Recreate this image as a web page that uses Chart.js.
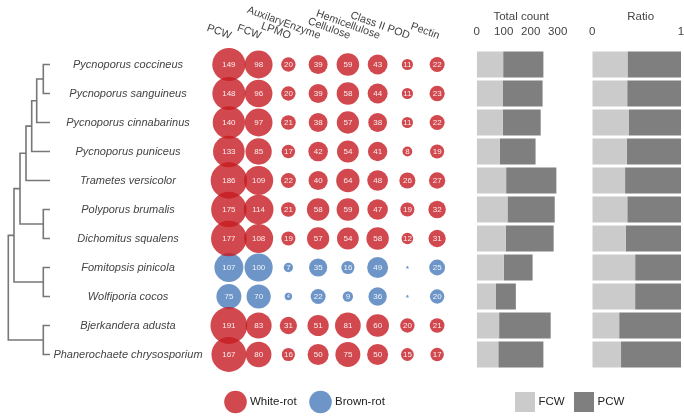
<!DOCTYPE html>
<html>
<head>
<meta charset="utf-8">
<script src="https://cdn.jsdelivr.net/npm/chart.js@4.4.1/dist/chart.umd.min.js"></script>
<style>
  html, body { margin: 0; padding: 0; background: #fff; }
  #wrap { position: relative; width: 684px; height: 416px; }
  #wrap canvas { position: absolute; left: 0; top: 0; }
</style>
</head>
<body>
<div id="wrap">
  <canvas id="tree" width="684" height="416"></canvas>
  <canvas id="bubbles" width="684" height="416"></canvas>
  <canvas id="count" width="684" height="416"></canvas>
  <canvas id="ratio" width="684" height="416"></canvas>
</div>
<script>
const species = [
    'Pycnoporus coccineus', 'Pycnoporus sanguineus', 'Pycnoporus cinnabarinus',
    'Pycnoporus puniceus', 'Trametes versicolor', 'Polyporus brumalis',
    'Dichomitus squalens', 'Fomitopsis pinicola', 'Wolfiporia cocos',
    'Bjerkandera adusta', 'Phanerochaete chrysosporium'
];
const rotType = ['White', 'White', 'White', 'White', 'White', 'White', 'White', 'Brown', 'Brown', 'White', 'White'];
const families = ['PCW', 'FCW', 'LPMO', 'AuxilaryEnzyme', 'Cellulose', 'Hemicellulose', 'Class II POD', 'Pectin'];

const pcw = [149, 148, 140, 133, 186, 175, 177, 107, 75, 191, 167];
const fcw = [98, 96, 97, 85, 109, 114, 108, 100, 70, 83, 80];
const lpmo = [20, 20, 21, 17, 22, 21, 19, 7, 4, 31, 16];
const auxEnzyme = [39, 39, 38, 42, 40, 58, 57, 35, 22, 51, 50];
const cellulose = [59, 58, 57, 54, 64, 59, 54, 16, 9, 81, 75];
const hemicellulose = [43, 44, 38, 41, 48, 47, 58, 49, 36, 60, 50];
const classIIPod = [11, 11, 11, 8, 26, 19, 12, 0, 0, 20, 15];
const pectin = [22, 23, 22, 19, 27, 32, 31, 25, 20, 21, 17];

const countTicks = [0, 100, 200, 300];
const ratioTicks = [0, 1];

// dendrogram: 'L#' = leaf (row index), 'n#' = earlier merge
const treeMerges = [
    ['L0', 'L1'], ['n0', 'L2'], ['n1', 'L3'], ['n2', 'L4'], ['L5', 'L6'],
    ['n3', 'n4'], ['L7', 'L8'], ['n5', 'n6'], ['L9', 'L10'], ['n7', 'n8']
];
const treeHeights = [6.7, 13.3, 18.3, 24, 6.7, 30, 6.7, 36, 6.7, 41.7];

const columns = [pcw, fcw, lpmo, auxEnzyme, cellulose, hemicellulose, classIIPod, pectin];
const whiteColor = 'rgba(198, 28, 34, 0.8)';
const brownColor = 'rgba(72, 122, 186, 0.8)';
const textColor = '#444';
const pad = { top: 50, bottom: 47 };

// dendrogram segments
const nodePos = [];
function pos(ref) {
    const k = parseInt(ref.slice(1));
    if (ref[0] === 'L') return { h: 0, y: k };
    return nodePos[k];
}
const treeSets = treeMerges.map(function (m, k) {
    const a = pos(m[0]), b = pos(m[1]);
    const h = treeHeights[k];
    nodePos[k] = { h: h, y: (a.y + b.y) / 2 };
    return {
        data: [{ x: a.h, y: a.y }, { x: h, y: a.y }, { x: h, y: b.y }, { x: b.h, y: b.y }],
        showLine: true, borderColor: '#777', borderWidth: 1.6, pointRadius: 0, clip: false
    };
});

new Chart(document.getElementById('tree'), {
    type: 'scatter',
    data: { datasets: treeSets },
    options: {
        responsive: false, animation: false, events: [],
        layout: { padding: { left: 0, right: 624, top: pad.top, bottom: pad.bottom } },
        scales: {
            x: { type: 'linear', min: -10, max: 50, reverse: true, display: false },
            y: { type: 'linear', min: -0.5, max: 10.5, reverse: true, display: false }
        },
        plugins: { legend: { display: false }, tooltip: { enabled: false } }
    },
    plugins: [{
        id: 'speciesLabels',
        afterDraw(chart) {
            const ctx = chart.ctx;
            ctx.save();
            ctx.font = 'italic 11px "Liberation Sans", Arial, sans-serif';
            ctx.fillStyle = textColor;
            ctx.textAlign = 'center';
            ctx.textBaseline = 'middle';
            species.forEach(function (s, i) {
                ctx.fillText(s, 128, chart.scales.y.getPixelForValue(i));
            });
            ctx.restore();
        }
    }]
});

// bubbles
function radius(v) { return Math.max(1.5, 2.07 * Math.pow(v, 0.416)); }
function bubblePoints(type) {
    const pts = [];
    species.forEach(function (s, i) {
        if (rotType[i] !== type) return;
        columns.forEach(function (col, j) {
            pts.push({ x: j, y: i, r: radius(col[i]), v: col[i] });
        });
    });
    return pts;
}

new Chart(document.getElementById('bubbles'), {
    type: 'bubble',
    data: {
        datasets: [
            { label: 'White-rot', data: bubblePoints('White'), backgroundColor: whiteColor, borderWidth: 0, clip: false },
            { label: 'Brown-rot', data: bubblePoints('Brown'), backgroundColor: brownColor, borderWidth: 0, clip: false }
        ]
    },
    options: {
        responsive: false, animation: false, events: [],
        layout: { padding: { left: 214, right: 232, top: pad.top, bottom: pad.bottom } },
        scales: {
            x: { type: 'linear', min: -0.5, max: 7.5, display: false },
            y: { type: 'linear', min: -0.5, max: 10.5, reverse: true, display: false }
        },
        plugins: { legend: { display: false }, tooltip: { enabled: false } }
    },
    plugins: [{
        id: 'bubbleText',
        afterDatasetsDraw(chart) {
            const ctx = chart.ctx;
            ctx.save();
            ctx.fillStyle = 'rgba(255,255,255,0.9)';
            ctx.textAlign = 'center';
            ctx.textBaseline = 'middle';
            chart.data.datasets.forEach(function (ds, d) {
                chart.getDatasetMeta(d).data.forEach(function (el, k) {
                    const v = ds.data[k].v;
                    ctx.font = (v < 5 ? '5px' : '8px') + ' "Liberation Sans", Arial, sans-serif';
                    ctx.fillText(String(v), el.x, el.y + 0.5);
                });
            });
            // column headers
            ctx.font = '10.8px "Liberation Sans", Arial, sans-serif';
            ctx.fillStyle = textColor;
            ctx.textAlign = 'right';
            ctx.textBaseline = 'alphabetic';
            families.forEach(function (f, j) {
                ctx.save();
                ctx.translate(chart.scales.x.getPixelForValue(j) + 1, 39);
                ctx.rotate(20 * Math.PI / 180);
                ctx.fillText(f, 0, 0);
                ctx.restore();
            });
            // legend
            ctx.font = '11.5px "Liberation Sans", Arial, sans-serif';
            ctx.textAlign = 'left';
            ctx.textBaseline = 'middle';
            const lx = [235.5, 320.5];
            chart.data.datasets.forEach(function (ds, d) {
                ctx.fillStyle = ds.backgroundColor;
                ctx.beginPath();
                ctx.arc(lx[d], 402, 11.3, 0, Math.PI * 2);
                ctx.fill();
                ctx.fillStyle = '#222';
                ctx.fillText(ds.label, lx[d] + 14.5, 402);
            });
            ctx.restore();
        }
    }]
});

// bar panels
function panelPlugin(title, ticks, withLegend) {
    return {
        id: 'panel' + title.replace(' ', ''),
        afterDraw(chart) {
            const ctx = chart.ctx, a = chart.chartArea, xs = chart.scales.x;
            ctx.save();
            ctx.font = '11.5px "Liberation Sans", Arial, sans-serif';
            ctx.fillStyle = textColor;
            ctx.textAlign = 'center';
            ctx.textBaseline = 'middle';
            ctx.fillText(title, (a.left + a.right) / 2 + 4, 17);
            ticks.forEach(function (t) {
                ctx.fillText(String(t), xs.getPixelForValue(t), 32);
            });
            if (withLegend) {
                const lx = [515, 574];
                ctx.textAlign = 'left';
                chart.data.datasets.forEach(function (ds, d) {
                    ctx.fillStyle = ds.backgroundColor;
                    ctx.fillRect(lx[d], 392, 20, 20);
                    ctx.fillStyle = '#222';
                    ctx.fillText(ds.label, lx[d] + 23.5, 402);
                });
            }
            ctx.restore();
        }
    };
}

function barChart(id, fcwData, pcwData, xMax, padLeft, padRight, title, ticks, withLegend) {
    new Chart(document.getElementById(id), {
        type: 'bar',
        data: {
            labels: species,
            datasets: [
                { label: 'FCW', data: fcwData, backgroundColor: '#CBCBCB', borderWidth: 0, categoryPercentage: 1, barPercentage: 0.9 },
                { label: 'PCW', data: pcwData, backgroundColor: '#7F7F7F', borderWidth: 0, categoryPercentage: 1, barPercentage: 0.9 }
            ]
        },
        options: {
            indexAxis: 'y',
            responsive: false, animation: false, events: [],
            layout: { padding: { left: padLeft, right: padRight, top: pad.top, bottom: pad.bottom } },
            scales: {
                x: { type: 'linear', stacked: true, min: 0, max: xMax, display: false },
                y: { stacked: true, display: false }
            },
            plugins: { legend: { display: false }, tooltip: { enabled: false } }
        },
        plugins: [panelPlugin(title, ticks, withLegend)]
    });
}

const fcwRatio = fcw.map(function (v, i) { return v / (v + pcw[i]); });
const pcwRatio = pcw.map(function (v, i) { return v / (v + fcw[i]); });

barChart('count', fcw, pcw, 300, 476.7, 126.3, 'Total count', countTicks, false);
barChart('ratio', fcwRatio, pcwRatio, 1, 592.3, 3, 'Ratio', ratioTicks, true);
</script>
</body>
</html>
